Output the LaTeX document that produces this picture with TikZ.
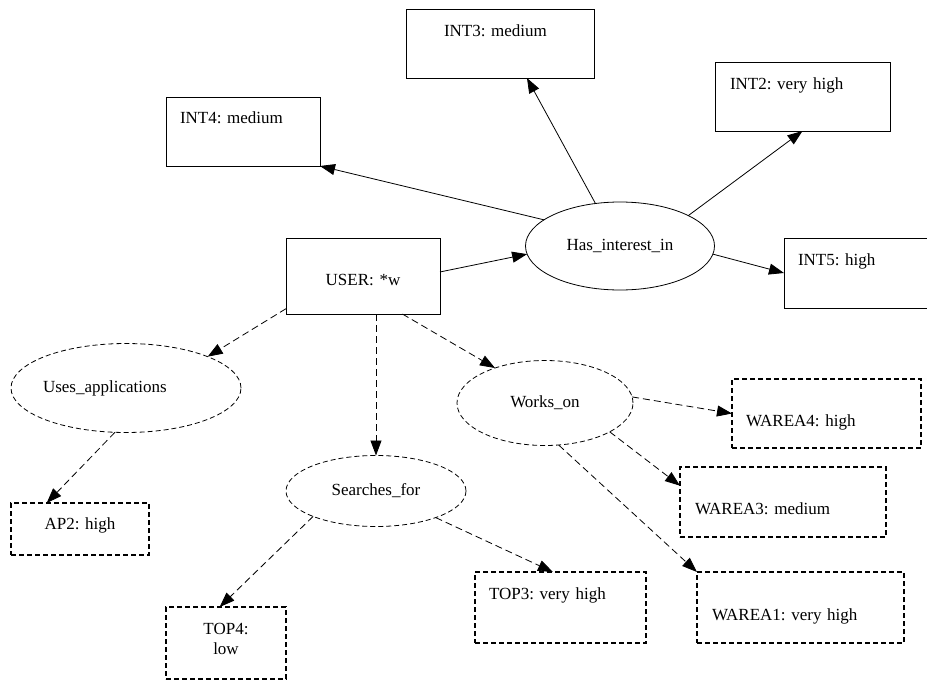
\documentclass[tikz,border=0pt]{standalone}
\usepackage{fontspec}
\setmainfont{Liberation Serif}
\usetikzlibrary{shapes.geometric,arrows.meta}
\frenchspacing

\begin{document}
\begin{tikzpicture}[x=1pt,y=-1pt,
  every node/.style={font=\fontsize{17}{20.4}\selectfont, outer sep=0pt},
  box/.style={draw, line width=1pt, anchor=north west, inner ysep=0pt, align=left},
  dbox/.style={box, line width=1.6pt, dash pattern=on 5pt off 3pt},
  rel/.style={draw, ellipse, line width=0.8pt, inner sep=0pt},
  drel/.style={rel, dash pattern=on 5pt off 3pt},
  link/.style={line width=0.8pt, -{Triangle[length=15pt,width=11pt]}},
  dlink/.style={link, dash pattern=on 7pt off 4pt}]
  \useasboundingbox (0,0) rectangle (927,680);

  % interest values
  \node[box, inner xsep=38pt, text width=112pt, text height=27pt, text depth=42pt] (int3) at (406,9) {INT3: medium};
  \node[box, inner xsep=14pt, text width=126pt, text height=26pt, text depth=43pt] (int4) at (166,97) {INT4: medium};
  \node[box, inner xsep=15pt, text width=145pt, text height=27pt, text depth=42pt] (int2) at (715,62) {INT2: very high};
  \node[box, inner xsep=14pt, text width=122pt, text height=27pt, text depth=43pt] (int5) at (784,238) {INT5: high};
  \node[box, align=center, inner xsep=10pt, text width=134pt, text height=47pt, text depth=29pt] (user) at (286,238) {USER: *w};

  % relations
  \node[rel, minimum width=189pt, minimum height=88pt] (has) at (620,246) {Has\_interest\_in};
  \node[drel, align=left, text width=166pt, inner xsep=-2pt, minimum width=230pt, minimum height=89pt] (uses) at (126,388) {Uses\_applications};
  \node[drel, minimum width=180pt, minimum height=71pt] (searches) at (376,491) {Searches\_for};
  \node[drel, minimum width=176pt, minimum height=85pt] (works) at (545,403) {Works\_on};

  % dashed values
  \node[dbox, align=center, inner xsep=8pt, text width=122pt, text height=26pt, text depth=26pt] (ap2) at (11,503) {AP2: high};
  \node[dbox, align=center, inner xsep=8pt, text width=104pt, text height=27pt, text depth=45pt] (top4) at (166,607) {TOP4:\\low};
  \node[dbox, inner xsep=14pt, text width=143pt, text height=27pt, text depth=44pt] (top3) at (475,572) {TOP3: very high};
  \node[dbox, inner xsep=15pt, text width=177pt, text height=48pt, text depth=23pt] (warea1) at (697,572) {WAREA1: very high};
  \node[dbox, inner xsep=15pt, text width=176pt, text height=47pt, text depth=23pt] (warea3) at (680,467) {WAREA3: medium};
  \node[dbox, inner xsep=14pt, text width=161pt, text height=47pt, text depth=22pt] (warea4) at (732,379) {WAREA4: high};

  \draw[link] (has.161) -- (int4.south east);
  \draw[link] (has.120) -- (int3.-52);
  \draw[link] (has.24) -- (int2.south);
  \draw[link] (user.3) -- (has.185);
  \draw[link] (has.-5) -- (int5.west);

  \draw[dlink] (user.203) -- (uses.21);
  \draw[dlink] (user.south -| searches.north) -- (searches.north);
  \draw[dlink] (user.-44) -- (works.145);
  \draw[dlink] (uses.256) -- (ap2.142);
  \draw[dlink] (searches.202) -- (top4.100);
  \draw[dlink] (searches.-24) -- (top3.102);
  \draw[dlink] (works.4) -- (warea4.west);
  \draw[dlink] (works.-24) -- (warea3.171);
  \draw[dlink] (works.-72) -- (warea1.north west);
\end{tikzpicture}
\end{document}
